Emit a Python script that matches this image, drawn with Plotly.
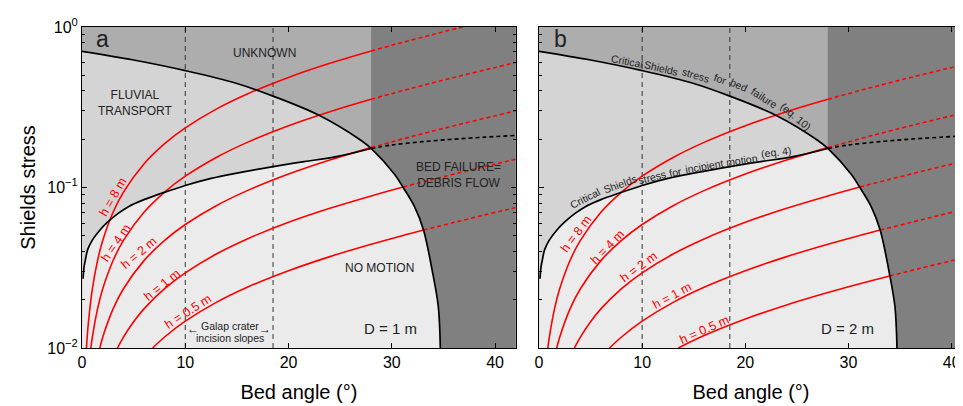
import plotly.graph_objects as go

# ---------------- data ----------------
# axis extents
X_MAX_A = 42.0
X_MAX_B = 41.1
Y_MIN, Y_MAX = 0.01, 1.0

# bed angle (deg) beyond which bed failure (debris flow) replaces fluvial transport
DEBRIS_ANGLE = 28.0

# Galap crater incision slopes (deg)
GALAP_SLOPES = [10.0, 18.5]

# Critical Shields stress for bed failure (eq. 10)
BF_ANGLE = [0, 5, 10, 15, 18.5, 23, 27, 28, 30.3, 31.1, 32.2, 33.07, 33.9, 34.5, 34.7]
BF_TAU = [0.706, 0.623, 0.535, 0.445, 0.371, 0.281, 0.197, 0.175, 0.120, 0.100, 0.076,
          0.0544, 0.0307, 0.0182, 0.010]

# Critical Shields stress for incipient motion (eq. 4)
IM_ANGLE = [0.1, 0.2, 0.35, 0.55, 1.0, 1.7, 2.5, 3.5, 4.5, 6, 7.7, 10, 12.5, 15, 18.5,
            21.5, 24.5, 28]
IM_TAU = [0.027, 0.032, 0.036, 0.041, 0.047, 0.054, 0.061, 0.069, 0.076, 0.084, 0.092,
          0.103, 0.114, 0.123, 0.135, 0.145, 0.155, 0.175]
# its dashed extension into the debris-flow field
IM_EXT_ANGLE = [28, 30, 33, 36, 39, 42]
IM_EXT_TAU = [0.175, 0.184, 0.193, 0.200, 0.206, 0.211]

# Shields stress of flows, by ratio h/D (flow depth / grain size)
R8_ANGLE = [0.43, 0.6, 1, 1.5, 2, 3, 4, 6, 8, 10, 13, 16, 20, 24, 28, 31, 34, 37]
R8_TAU = [0.0100, 0.01396, 0.02328, 0.03492, 0.04656, 0.06988, 0.09324, 0.1401, 0.1874,
          0.2351, 0.3078, 0.3823, 0.4853, 0.5936, 0.7089, 0.8012, 0.8993, 1.0048]
R4_ANGLE = [0.86, 1, 1.5, 2, 3, 4, 6, 8, 10, 13, 16, 20, 24, 28, 32, 36, 40, 42]
R4_TAU = [0.0100, 0.01164, 0.01746, 0.02328, 0.03494, 0.04662, 0.07007, 0.0937, 0.1176,
          0.1539, 0.1911, 0.2427, 0.2968, 0.3545, 0.4166, 0.4843, 0.5594, 0.6003]
R2_ANGLE = [1.72, 2, 3, 4, 6, 8, 10, 13, 16, 20, 24, 28, 32, 36, 40, 42]
R2_TAU = [0.0100, 0.01164, 0.01747, 0.02331, 0.03503, 0.04685, 0.0588, 0.0770, 0.0956,
          0.1213, 0.1484, 0.1772, 0.2083, 0.2422, 0.2797, 0.3001]
R1_ANGLE = [3.43, 4, 5, 6, 8, 10, 13, 16, 20, 24, 28, 31.1, 34, 37, 40, 42]
R1_TAU = [0.0100, 0.01166, 0.01458, 0.01752, 0.02342, 0.02939, 0.0385, 0.0478, 0.0607,
          0.0742, 0.0886, 0.1007, 0.1124, 0.1256, 0.1399, 0.1501]
R05_ANGLE = [6.84, 8, 10, 13, 16, 20, 24, 28, 31, 33.07, 36, 39, 42]
R05_TAU = [0.0100, 0.01171, 0.01469, 0.01924, 0.0239, 0.0303, 0.0371, 0.0443, 0.0501,
           0.0543, 0.0605, 0.0675, 0.0750]
R025_ANGLE = [13.5, 16, 20, 24, 28, 31, 34, 37, 40, 42]
R025_TAU = [0.0100, 0.01195, 0.01517, 0.01855, 0.02215, 0.02504, 0.0281, 0.0314, 0.0350,
            0.0375]
# angle where each flow curve leaves the valid domain (solid -> dotted)
R8_BREAK, R4_BREAK, R2_BREAK, R1_BREAK, R05_BREAK, R025_BREAK = 28, 28, 28, 31.1, 33.07, 34.0

H_TEXT = ["h = 8 m", "h = 4 m", "h = 2 m", "h = 1 m", "h = 0.5 m"]
PANEL_A_CURVES = [(R8_ANGLE, R8_TAU, R8_BREAK), (R4_ANGLE, R4_TAU, R4_BREAK),
                  (R2_ANGLE, R2_TAU, R2_BREAK), (R1_ANGLE, R1_TAU, R1_BREAK),
                  (R05_ANGLE, R05_TAU, R05_BREAK)]          # D = 1 m
PANEL_B_CURVES = [(R4_ANGLE, R4_TAU, R4_BREAK), (R2_ANGLE, R2_TAU, R2_BREAK),
                  (R1_ANGLE, R1_TAU, R1_BREAK), (R05_ANGLE, R05_TAU, R05_BREAK),
                  (R025_ANGLE, R025_TAU, R025_BREAK)]       # D = 2 m

# ---------------- styling ----------------
FONT = "Liberation Sans, Arial, Helvetica, sans-serif"
C_UNKNOWN = "#adadad"
C_FLUVIAL = "#d4d4d4"
C_NOMOTION = "#ebebeb"
C_DEBRIS = "#808080"
RED = "#ff0000"
TXT = "#222222"

fig = go.Figure()


def add_panel(xa, ya, xmax, curves):
    kw = dict(xaxis=xa, yaxis=ya, hoverinfo="skip", showlegend=False)
    # fluvial transport field (below bed-failure curve, left of debris angle)
    fx = [a for a in BF_ANGLE if a <= DEBRIS_ANGLE]
    fy = [t for a, t in zip(BF_ANGLE, BF_TAU) if a <= DEBRIS_ANGLE]
    fig.add_trace(go.Scatter(x=fx + [DEBRIS_ANGLE, 0], y=fy + [Y_MIN, Y_MIN],
                             fill="toself", fillcolor=C_FLUVIAL, mode="lines",
                             line=dict(width=0), **kw))
    # no-motion field
    bx = [a for a in BF_ANGLE if a > DEBRIS_ANGLE]
    by = [t for a, t in zip(BF_ANGLE, BF_TAU) if a > DEBRIS_ANGLE]
    fig.add_trace(go.Scatter(x=[0] + IM_ANGLE + bx + [0], y=[Y_MIN] + IM_TAU + by + [Y_MIN],
                             fill="toself", fillcolor=C_NOMOTION, mode="lines",
                             line=dict(width=0), **kw))
    # debris-flow field
    dx = [a for a in BF_ANGLE if a >= DEBRIS_ANGLE]
    dy = [t for a, t in zip(BF_ANGLE, BF_TAU) if a >= DEBRIS_ANGLE]
    fig.add_trace(go.Scatter(x=[DEBRIS_ANGLE] + dx + [X_MAX_A + 1, X_MAX_A + 1],
                             y=[Y_MAX] + dy + [Y_MIN, Y_MAX],
                             fill="toself", fillcolor=C_DEBRIS, mode="lines",
                             line=dict(width=0), **kw))
    # Galap crater slopes
    for s in GALAP_SLOPES:
        fig.add_trace(go.Scatter(x=[s, s], y=[Y_MIN, Y_MAX], mode="lines",
                                 line=dict(color="#333333", width=1, dash="5px,4px"), **kw))
    # flow curves
    for ang, tau, brk in curves:
        sx = [a for a in ang if a <= brk]
        sy = [t for a, t in zip(ang, tau) if a <= brk]
        ex = [a for a in ang if a >= brk]
        ey = [t for a, t in zip(ang, tau) if a >= brk]
        fig.add_trace(go.Scatter(x=sx, y=sy, mode="lines",
                                 line=dict(color=RED, width=1.6, shape="spline"), **kw))
        fig.add_trace(go.Scatter(x=ex, y=ey, mode="lines",
                                 line=dict(color=RED, width=1.6, dash="4px,3px",
                                           shape="spline"), **kw))
    # thresholds
    fig.add_trace(go.Scatter(x=BF_ANGLE, y=BF_TAU, mode="lines",
                             line=dict(color="black", width=1.7, shape="spline"), **kw))
    fig.add_trace(go.Scatter(x=IM_ANGLE, y=IM_TAU, mode="lines",
                             line=dict(color="black", width=1.7, shape="spline"), **kw))
    fig.add_trace(go.Scatter(x=IM_EXT_ANGLE, y=IM_EXT_TAU, mode="lines",
                             line=dict(color="black", width=1.6, dash="4px,3px",
                                       shape="spline"), **kw))


add_panel("x", "y", X_MAX_A, PANEL_A_CURVES)
add_panel("x2", "y2", X_MAX_B, PANEL_B_CURVES)

ann = []


def txt(xr, yr, x, ylog, text, size, color=TXT, angle=0, xanchor="center"):
    ann.append(dict(xref=xr, yref=yr, x=x, y=ylog, text=text, showarrow=False,
                    textangle=angle, font=dict(family=FONT, size=size, color=color),
                    xanchor=xanchor, yanchor="middle"))


# panel a
txt("x", "y", 1.94, -0.075, "a", 23)
txt("x", "y", 17.68, -0.162, "UNKNOWN", 12)
txt("x", "y", 5.14, -0.4745, "FLUVIAL<br>TRANSPORT", 12)
txt("x", "y", 36.5, -0.924, "BED FAILURE=<br>DEBRIS FLOW", 12)
txt("x", "y", 28.78, -1.499, "NO MOTION", 12)
txt("x", "y", 29.9, -1.876, "D = 1 m", 15)
txt("x", "y", 14.29, -1.866, "Galap crater", 10.5)
txt("x", "y", 14.29, -1.938, "incision slopes", 10.5)
txt("x", "y", GALAP_SLOPES[0], -1.882, "←", 12, TXT, 0, "left")
txt("x", "y", GALAP_SLOPES[1], -1.882, "→", 12, TXT, 0, "right")
A_LABEL_POS = [(3.0, -1.059, -60), (3.29, -1.346, -56), (5.52, -1.409, -40),
               (7.75, -1.606, -39), (10.22, -1.777, -33)]
for (x, yl, ang), t in zip(A_LABEL_POS, H_TEXT):
    txt("x", "y", x, yl, t, 12.5, RED, ang)

# panel b
txt("x2", "y2", 2.13, -0.075, "b", 23)
txt("x2", "y2", 29.94, -1.876, "D = 2 m", 15)
B_LABEL_POS = [(3.59, -1.289, -53.5), (6.64, -1.368, -46), (9.69, -1.4975, -36.5),
               (12.86, -1.675, -28.5), (15.99, -1.886, -24)]
for (x, yl, ang), t in zip(B_LABEL_POS, H_TEXT):
    txt("x2", "y2", x, yl, t, 12.5, RED, ang)
BF_WORDS = [("Critical", 8.50, -0.2114, 11), ("Shields", 11.85, -0.2550, 14),
            ("stress", 15.21, -0.2960, 17), ("for", 17.64, -0.3252, 20),
            ("bed", 19.38, -0.3626, 24), ("failure", 21.87, -0.4415, 33),
            ("(eq. 10)", 24.87, -0.5535, 40)]
for w, x, yl, ang in BF_WORDS:
    txt("x2", "y2", x, yl, w, 10.5, TXT, ang)
IM_WORDS = [("Critical", 4.49, -1.0672, -27), ("Shields", 7.85, -0.9801, -20),
            ("stress", 10.98, -0.9328, -14), ("for", 13.25, -0.9017, -12),
            ("incipient", 16.06, -0.8663, -10), ("motion", 19.67, -0.8290, -8),
            ("(eq. 4)", 22.94, -0.7774, -7)]
for w, x, yl, ang in IM_WORDS:
    txt("x2", "y2", x, yl, w, 10.5, TXT, ang)

minor_vals = [m * 10.0 ** e for e in (-2, -1) for m in range(2, 10)]
common_x = dict(showline=True, linecolor="black", linewidth=1, ticks="inside", ticklen=5,
                tickcolor="black", tickvals=[0, 10, 20, 30, 40], showgrid=False,
                zeroline=False, tickfont=dict(family=FONT, size=16, color="black"),
                title=dict(text="Bed angle (°)", font=dict(family=FONT, size=20, color="black"),
                           standoff=14),
                mirror="ticks", automargin=False)
common_y = dict(type="log", range=[-2, 0], showline=True, linecolor="black", linewidth=1,
                ticks="inside", ticklen=5, tickcolor="black", showgrid=False, zeroline=False,
                tickvals=[0.01, 0.1, 1],
                ticktext=["10<sup>−2</sup>", "10<sup>−1</sup>", "10<sup>0</sup>"],
                tickfont=dict(family=FONT, size=16, color="black"), automargin=False,
                minor=dict(ticks="inside", ticklen=3, tickcolor="black", tickvals=minor_vals,
                           showgrid=False))

# the page body adds an 8 px offset, so the figure is 8 px smaller than the window
fig.update_layout(
    width=955, height=398,
    margin=dict(l=74, r=0, t=19, b=58),
    paper_bgcolor="white", plot_bgcolor=C_UNKNOWN,
    xaxis=dict(domain=[0, 0.4923], range=[0, X_MAX_A], anchor="y", **common_x),
    xaxis2=dict(domain=[0.5187, 1], range=[0, X_MAX_B], anchor="y2", **common_x),
    yaxis=dict(anchor="x", mirror="ticks",
               title=dict(text="Shields stress",
                          font=dict(family=FONT, size=20, color="black"), standoff=6),
               **common_y),
    yaxis2=dict(anchor="x2", showticklabels=False, mirror=False, **common_y),
    annotations=ann,
    showlegend=False,
)

fig.write_html("out.html")
